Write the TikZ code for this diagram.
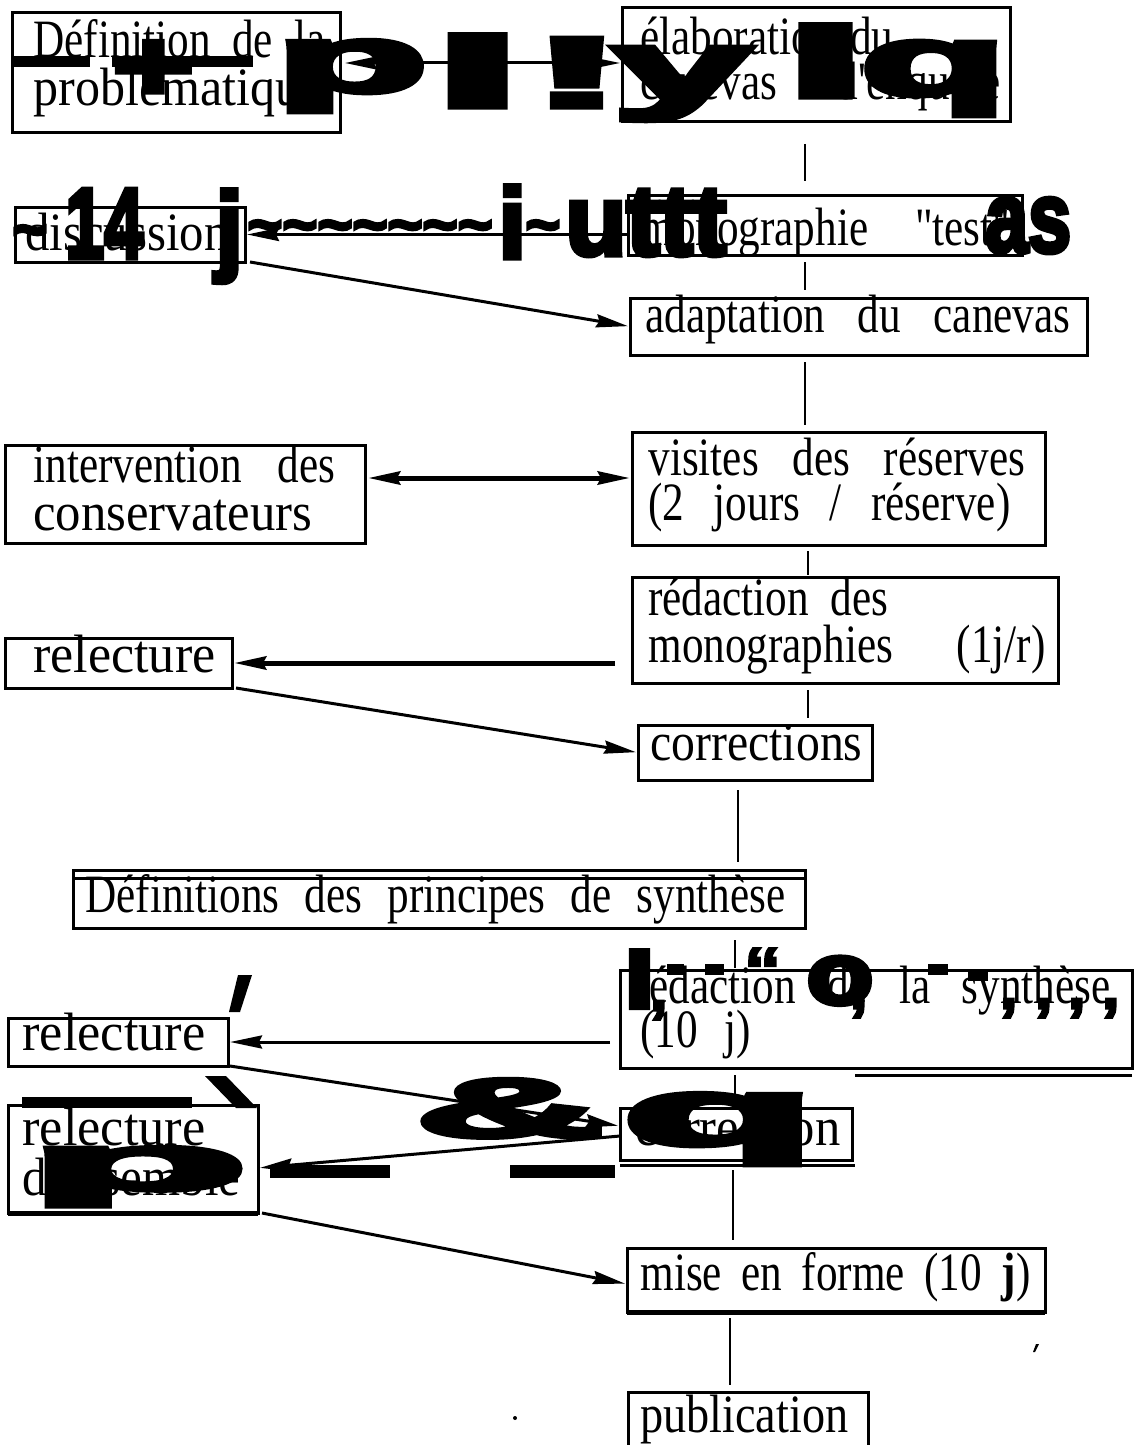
\documentclass[tikz,border=0pt]{standalone}
\usepackage{fontspec}
\usepackage{graphicx}
\newfontfamily\serif{Liberation Serif}[FakeStretch=0.8]
\newfontfamily\ocrf{Liberation Sans}[BoldFeatures={FakeBold=5}]
\usetikzlibrary{arrows.meta}
\newcommand\boxnode[5]{\node[box, minimum width={(#4-#2)*0.5pt}, minimum height={(#5-#3)*0.5pt}] (#1) at (#2,#3) {};}
\newcommand\tline[4]{\node[txt] (#1) at (#2,#3) {#4};}
\newcommand\jline[2]{\makebox[\dimexpr #1pt/2\relax][s]{#2}}
\newcommand\sword[2]{\resizebox{\dimexpr #1pt/2\relax}{\height}{#2}}
\newcommand\ocrglyph[6]{\node[ocr, font={\ocrf\bfseries\fontsize{#4pt}{#4pt}\selectfont}] (#1) at (#2,#3) {\scalebox{#5}[1]{#6}};}
\begin{document}
\begin{tikzpicture}[x=0.5pt,y=-0.5pt,
  box/.style={draw, line width=1.5pt, inner sep=0pt, outer sep=0pt, anchor=north west},
  txt/.style={inner sep=0pt, anchor=base west, font=\serif\fontsize{27pt}{32pt}\selectfont},
  ocr/.style={inner sep=0pt, anchor=base west},
  arr/.style={line width=1.5pt, -{Stealth[length=16pt,width=6.5pt,inset=1.5pt]}},
  arrtwo/.style={line width=1.5pt, {Stealth[length=16pt,width=6.5pt,inset=1.5pt]}-{Stealth[length=16pt,width=6.5pt,inset=1.5pt]}},
  vln/.style={line width=1.1pt}]
\fill[white] (0,0) rectangle (1140,1445);
\useasboundingbox (0,0) rectangle (1140,1445);

% boxes
\boxnode{B1}{12}{13}{340}{133}
\boxnode{B2}{622}{8}{1010}{122}
\boxnode{B3}{15}{207}{245}{262}
\boxnode{B4}{628}{195}{1022}{255}
\boxnode{B5}{630}{298}{1087}{355}
\boxnode{B6}{5}{445}{365}{543}
\boxnode{B7}{632}{432}{1045}{545}
\boxnode{B8}{632}{577}{1058}{683}
\boxnode{B9}{5}{638}{232}{688}
\boxnode{B10}{638}{725}{872}{780}
\boxnode{B11}{73}{870}{805}{928}
\boxnode{B12}{620}{970}{1132}{1068}
\boxnode{B13}{8}{1018}{228}{1066}
\boxnode{B14}{620}{1108}{852}{1160}
\boxnode{B15}{8}{1105}{258}{1213}
\boxnode{B16}{627}{1248}{1045}{1312}
\boxnode{B17}{628}{1392}{868}{1460}

% extra scan rules
\draw[line width=1.5pt] (B11.north west) ++(0,8) -- ++(732,0);
\draw[line width=1.5pt] (B12.south east) ++(0,7) -- ++(-277,0);
\draw[line width=1.5pt] (B14.south west) ++(0,5) -- ++(235,0);
\draw[line width=2.5pt] (B16.south west) -- (B16.south east);
\draw[line width=2.5pt] (B15.south west) -- (B15.south east);

% texts
\tline{t1a}{33}{58}{\jline{292}{Définition de la}}
\tline{t1b}{33}{105}{\sword{289}{problématique}}
\tline{t2a}{640}{55}{\jline{253}{élaboration du}}
\tline{t2b}{640}{100}{\jline{360}{canevas d'enquête}}
\tline{t3}{25}{250}{\sword{203}{discussion}}
\tline{t4}{640}{245}{\jline{370}{monographie "test"}}
\tline{t5}{645}{332}{\jline{425}{adaptation du canevas}}
\tline{t6a}{33}{482}{\jline{302}{intervention des}}
\tline{t6b}{33}{530}{\sword{279}{conservateurs}}
\tline{t7a}{648}{475}{\jline{377}{visites des réserves}}
\tline{t7b}{648}{520}{\jline{362}{(2 jours / réserve)}}
\tline{t8a}{648}{615}{\jline{240}{rédaction des}}
\tline{t8b}{648}{662}{\jline{397}{monographies (1j/r)}}
\tline{t9}{33}{672}{\sword{182}{relecture}}
\tline{t10}{650}{760}{\sword{212}{corrections}}
\tline{t11}{85}{912}{\jline{700}{Définitions des principes de synthèse}}
\tline{t12a}{635}{1003}{\jline{475}{rédaction de la synthèse}}
\tline{t12b}{640}{1047}{\jline{110}{(10 j)}}
\tline{t13}{22}{1050}{\sword{183}{relecture}}
\tline{t14}{635}{1145}{\sword{205}{correction}}
\tline{t15a}{22}{1145}{\sword{183}{relecture}}
\tline{t15b}{22}{1195}{\sword{218}{d'ensemble}}
\tline{t16}{640}{1290}{\jline{390}{mise en forme (10 \textbf{j})}}
\tline{t17}{640}{1432}{\sword{208}{publication}}

% connectors
\coordinate (h1) at (0,63);
\coordinate (h2) at (0,478);
\coordinate (v1) at (805,0);
\coordinate (v2) at (808,0);
\coordinate (v3) at (738,0);
\coordinate (v4) at (735,0);
\coordinate (v5) at (733,0);
\coordinate (v6) at (730,0);
\draw[arrtwo, shorten <=2.5pt, shorten >=1pt] (B1.east |- h1) -- (B2.west |- h1);
\draw[vln, shorten <=11pt, shorten >=7pt] (B2.south -| v1) -- (B4.north -| v1);
\draw[arr, shorten >=1pt] (B4.west |- B3.east) -- (B3.east);
\draw[vln, shorten <=3.5pt, shorten >=4pt] (B4.south -| v1) -- (B5.north -| v1);
\draw[arr, shorten >=1pt] ([xshift=2.5pt]B3.south east) -- (B5.west);
\draw[vln, shorten <=3.5pt, shorten >=3.5pt] (B5.south -| v1) -- (B7.north -| v1);
\draw[arrtwo, line width=2.5pt, shorten <=1.5pt, shorten >=1pt] (B6.east |- h2) -- (B7.west |- h2);
\draw[vln, shorten <=3pt, shorten >=1pt] (B7.south -| v2) -- (B8.north -| v2);
\draw[arr, line width=2.5pt, shorten <=8.5pt, shorten >=1pt] (B8.west |- B9.east) -- (B9.east);
\draw[vln, shorten <=3.5pt, shorten >=3.5pt] (B8.south -| v2) -- (B10.north -| v2);
\draw[arr, shorten >=1pt] ([xshift=2pt]B9.south east) -- (B10.west);
\draw[vln, shorten <=5pt, shorten >=4pt] (B10.south -| v3) -- (B11.north -| v3);
\draw[vln, shorten <=6pt, shorten >=1pt] (B11.south -| v4) -- (B12.north -| v4);
\draw[arr, shorten <=5pt, shorten >=1pt] (B12.west |- B13.east) -- (B13.east);
\draw[vln, shorten <=3.5pt] (B12.south -| v4) -- (B14.north -| v4);
\draw[arr, shorten >=1pt] ([xshift=1pt]B13.south east) -- ([yshift=4pt]B14.west);
\draw[arr, shorten >=1pt] ([yshift=-1pt]B14.west) -- ([yshift=-4.5pt]B15.east);
\draw[vln, shorten <=5pt, shorten >=4pt] (B14.south -| v5) -- (B16.north -| v5);
\draw[arr, shorten >=1pt] ([xshift=2pt]B15.south east) -- ([yshift=-2pt]B16.west);
\draw[vln, shorten <=3pt, shorten >=3.5pt] (B16.south -| v6) -- (B17.north -| v6);

% OCR overlay glyphs
\fill (13,56) rectangle (90,67);
\fill (112,56) rectangle (253,67);
\ocrglyph{o1}{112}{100}{50}{1.4}{+}
\ocrglyph{o2}{275}{92}{48}{2.6}{p}
\ocrglyph{o3}{433}{107}{50}{3.2}{l}
\ocrglyph{o4}{530}{107}{50}{2.8}{!}
\ocrglyph{o5}{612}{100}{50}{2.5}{y}
\ocrglyph{o6}{785}{97}{50}{2.9}{l}
\ocrglyph{o7}{860}{95}{50}{2.4}{q}
\ocrglyph{o8}{12}{250}{30}{1}{\char`\~}
\ocrglyph{o9}{65}{258}{50}{0.7}{14}
\ocrglyph{o10}{215}{262}{50}{1}{j}
\ocrglyph{o11}{247}{245}{30}{1}{\char`\~\char`\~\char`\~\char`\~\char`\~\char`\~\char`\~}
\ocrglyph{o12}{498}{258}{50}{1}{i}
\ocrglyph{o13}{525}{245}{30}{1}{\char`\~}
\ocrglyph{o14}{565}{255}{50}{1}{uttt}
\ocrglyph{o15}{985}{252}{50}{0.77}{as}
\ocrglyph{o16}{624}{1008}{42}{1.3}{I}
\fill (667,964) rectangle (684,975);
\fill (705,964) rectangle (724,975);
\ocrglyph{o17}{745}{990}{30}{1.1}{‘‘}
\ocrglyph{o18}{806}{1004}{44}{1.25}{o}
\fill (928,964) rectangle (948,975);
\fill (968,970) rectangle (988,981);
\ocrglyph{o19}{650}{1010}{30}{1}{,}
\ocrglyph{o20}{850}{1008}{30}{1}{,}
\ocrglyph{o21}{1000}{1008}{30}{1}{,}
\ocrglyph{o22}{1035}{1008}{30}{1}{,}
\ocrglyph{o23}{1068}{1008}{30}{1}{,}
\ocrglyph{o24}{1102}{1008}{30}{1}{,}
\fill (238,975) -- (252,975) -- (240,1012) -- (229,1012) -- cycle;
\fill (205,1076) -- (226,1076) -- (257,1108) -- (236,1108) -- cycle;
\fill (22,1097) rectangle (192,1108);
\ocrglyph{o25}{415}{1137}{42}{3.1}{\&}
\ocrglyph{o26}{622}{1145}{48}{3.3}{q}
\ocrglyph{o27}{28}{1190}{40}{4.5}{p}
\fill (270,1165) rectangle (390,1178);
\fill (510,1165) rectangle (615,1178);
\fill (515,1418) circle (2);
\fill (1036,1344) -- (1039,1344) -- (1035,1352) -- (1033,1352) -- cycle;
\end{tikzpicture}
\end{document}
